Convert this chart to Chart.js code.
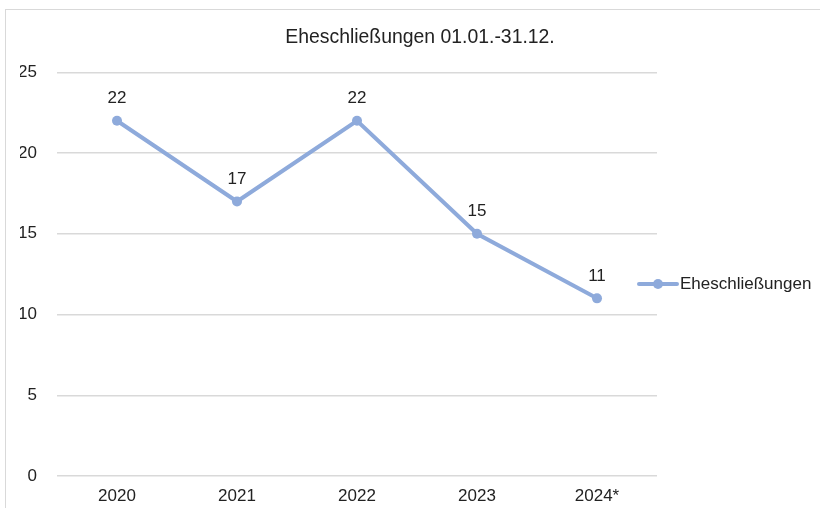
<!DOCTYPE html>
<html>
<head>
<meta charset="utf-8">
<script src="https://cdn.jsdelivr.net/npm/chart.js@4"></script>
<style>
  html, body { margin: 0; padding: 0; background: #fff; overflow: hidden; }
  #wrap { position: relative; width: 820px; height: 508px; }
  #frame { position: absolute; left: 5px; top: 9px; width: 900px; height: 600px;
           border: 1.5px solid #d9d9d9; box-sizing: border-box; }
  canvas { position: absolute; left: 0; top: 0; }
</style>
</head>
<body>
<div id="wrap">
  <div id="frame"></div>
  <canvas id="chart" width="820" height="508"></canvas>
</div>
<script>
const years = ['2020', '2021', '2022', '2023', '2024*'];
const marriages = [22, 17, 22, 15, 11];
const yTicks = [0, 5, 10, 15, 20, 25];

const seriesName = 'Eheschließungen';
const titleText = 'Eheschließungen 01.01.-31.12.';
const lineColor = '#8eaadb';
const textColor = '#222';
const fontFamily = '"Liberation Sans", Arial, sans-serif';

// value labels above each point
const valueLabels = {
  id: 'valueLabels',
  afterDatasetsDraw(chart) {
    const ctx = chart.ctx;
    const meta = chart.getDatasetMeta(0);
    ctx.save();
    ctx.font = '17px ' + fontFamily;
    ctx.fillStyle = textColor;
    ctx.textAlign = 'center';
    ctx.textBaseline = 'middle';
    meta.data.forEach((pt, i) => {
      ctx.fillText(String(marriages[i]), pt.x, pt.y - 22);
    });
    ctx.restore();
  }
};

// legend to the right, overlapping the plot edge like the original
const sideLegend = {
  id: 'sideLegend',
  afterDraw(chart) {
    const ctx = chart.ctx;
    const x0 = chart.chartArea.right - 18;
    const y = 284;
    ctx.save();
    ctx.strokeStyle = lineColor;
    ctx.lineWidth = 4;
    ctx.lineCap = 'round';
    ctx.beginPath();
    ctx.moveTo(x0, y);
    ctx.lineTo(x0 + 38, y);
    ctx.stroke();
    ctx.fillStyle = lineColor;
    ctx.beginPath();
    ctx.arc(x0 + 19, y, 5, 0, Math.PI * 2);
    ctx.fill();
    ctx.font = '17px ' + fontFamily;
    ctx.fillStyle = textColor;
    ctx.textAlign = 'left';
    ctx.textBaseline = 'middle';
    ctx.fillText(seriesName, x0 + 41, y);
    ctx.restore();
  }
};

new Chart(document.getElementById('chart'), {
  type: 'line',
  data: {
    labels: years,
    datasets: [{
      label: seriesName,
      data: marriages,
      borderColor: lineColor,
      backgroundColor: lineColor,
      borderWidth: 4,
      pointRadius: 5,
      pointBorderWidth: 0,
      tension: 0
    }]
  },
  options: {
    responsive: false,
    animation: false,
    layout: { padding: { left: 20, right: 0, top: 0, bottom: 0 } },
    plugins: {
      legend: { display: false },
      tooltip: { enabled: false },
      title: {
        display: true,
        text: titleText,
        color: textColor,
        font: { family: fontFamily, size: 19.4, weight: 'normal' },
        padding: { top: 26, bottom: 23 }
      }
    },
    scales: {
      x: {
        offset: true,
        grid: { display: false, drawTicks: false },
        border: { display: false },
        ticks: { color: textColor, padding: 10, font: { family: fontFamily, size: 17 } },
        afterFit(scale) { scale.height = 32; }
      },
      y: {
        min: 0,
        max: 25,
        afterBuildTicks(scale) { scale.ticks = yTicks.map(v => ({ value: v })); },
        grid: { color: '#d9d9d9', lineWidth: 1.5, drawTicks: false },
        border: { display: false },
        ticks: { color: textColor, padding: 20, font: { family: fontFamily, size: 17 } },
        afterFit(scale) { scale.width = 37; }
      },
      // empty right-hand axis that reserves the space used by the legend
      yRight: {
        position: 'right',
        min: 0,
        max: 25,
        grid: { display: false, drawTicks: false },
        border: { display: false },
        ticks: { display: false },
        afterFit(scale) { scale.width = 163; }
      }
    }
  },
  plugins: [valueLabels, sideLegend]
});
</script>
</body>
</html>
